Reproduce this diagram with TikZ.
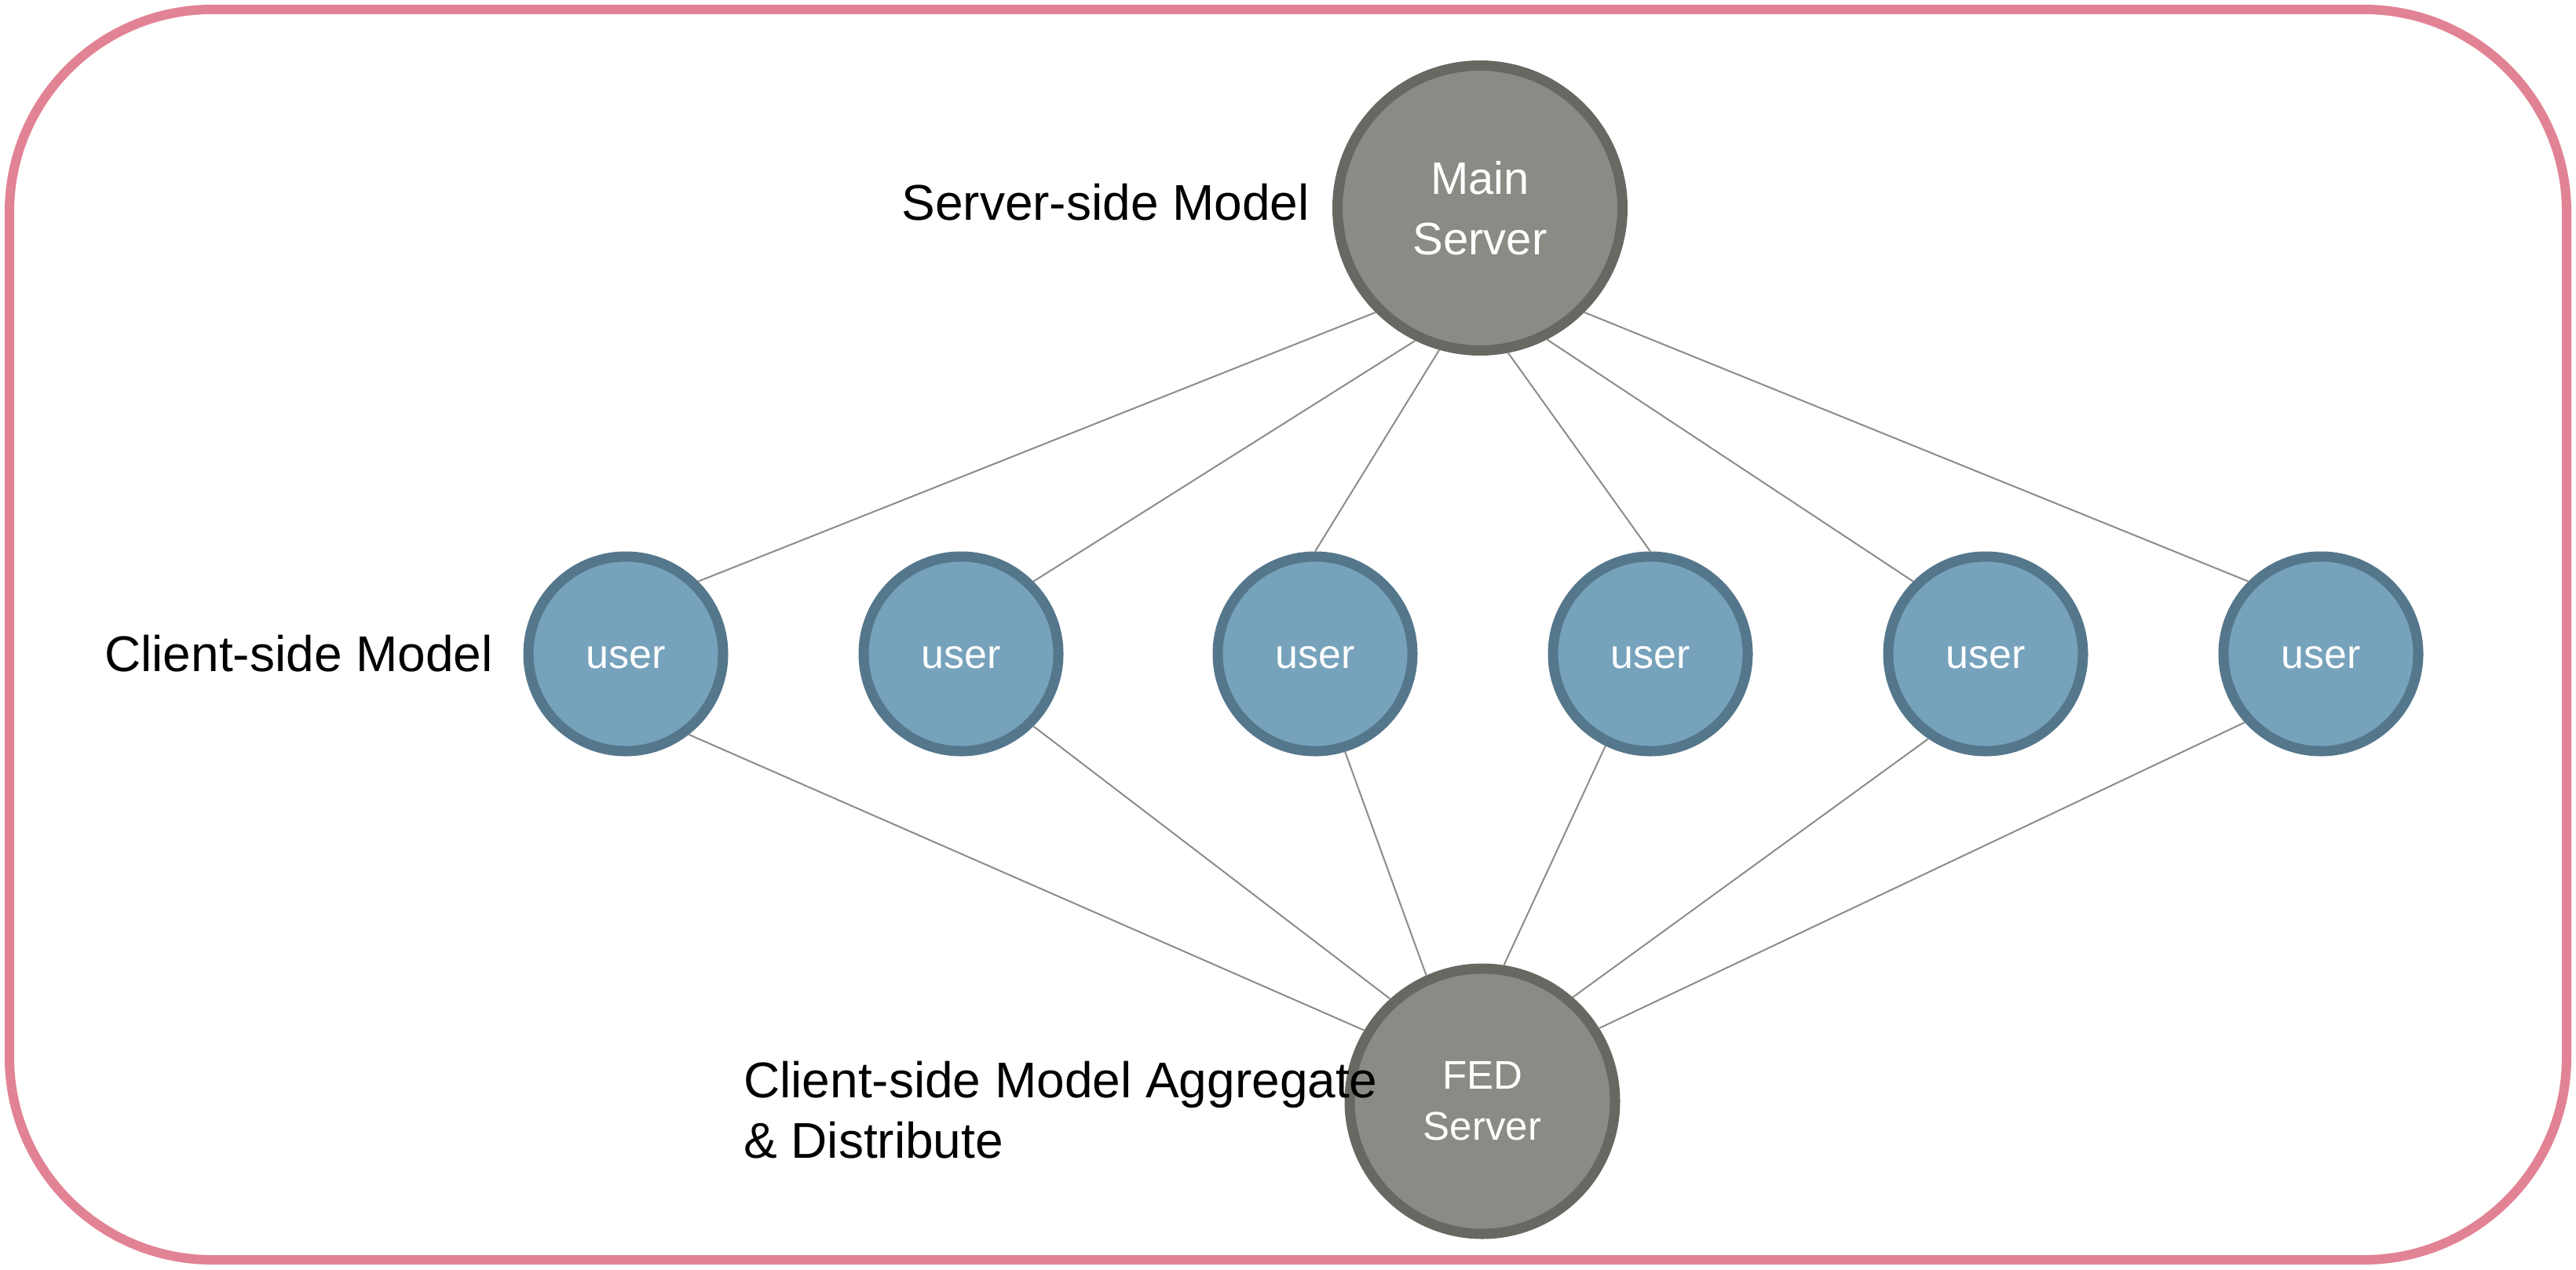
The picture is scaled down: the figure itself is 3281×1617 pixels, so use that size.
\documentclass[tikz,border=0pt]{standalone}
\usepackage{fontspec}
\setmainfont{Liberation Sans}
\usepackage{xcolor}
\usepackage{tikz}
\definecolor{framepink}{RGB}{225,131,148}
\definecolor{srvfill}{RGB}{139,139,133}
\definecolor{srvline}{RGB}{103,104,98}
\definecolor{userfill}{RGB}{118,162,188}
\definecolor{userline}{RGB}{85,119,140}
\definecolor{linkgray}{RGB}{140,140,135}

\begin{document}
\begin{tikzpicture}[x=1pt,y=-1pt,
  server/.style={circle,draw=srvline,fill=srvfill,line width=13pt,text=white,align=center,inner sep=0pt},
  client/.style={circle,draw=userline,fill=userfill,line width=13pt,minimum size=248pt,text=white,inner sep=0pt,text height=37pt,text depth=0pt,font=\fontsize{52}{62}\selectfont},
  link/.style={draw=linkgray,line width=2pt},
  tag/.style={inner sep=0pt,font=\fontsize{64}{77}\selectfont}]
\useasboundingbox (0,0) rectangle (3281,1617);
% Frame
\draw[framepink,line width=12pt,rounded corners=258pt] (12,12) rectangle (3269,1605);

% Servers
\node[server,minimum size=363pt,font=\fontsize{58}{77}\selectfont] (main) at (1885,265) {Main\\Server};
\node[server,minimum size=338pt,font=\fontsize{51}{65}\selectfont] (fed) at (1888,1403) {FED\\Server};

% Users
\foreach \i/\x in {1/797,2/1224,3/1675,4/2102,5/2529,6/2956}
  \node[client] (u\i) at (\x,833) {user};

% Links up to the main server
\foreach \i/\a/\b in {1/225/45,2/244/45,3/254/90,4/281/90,5/297/135,6/315/135}
  \draw[link] (main.\a) -- (u\i.\b);

% Links down to the FED server
\foreach \i/\a/\b in {1/-52/149,2/-45/132,3/-73/114,4/-116/81,5/-124/49,6/-138/32}
  \draw[link] (u\i.\a) -- (fed.\b);

% Labels
\node[tag,anchor=base east] (srvtag) at (1668,280) {Server-side Model};
\node[tag,anchor=base east] (clitag) at (628,855) {Client-side Model};
\node[tag,anchor=west,align=left] (fedtag) at (947,1414) {Client-side Model Aggregate\\\& Distribute};
\end{tikzpicture}
\end{document}
